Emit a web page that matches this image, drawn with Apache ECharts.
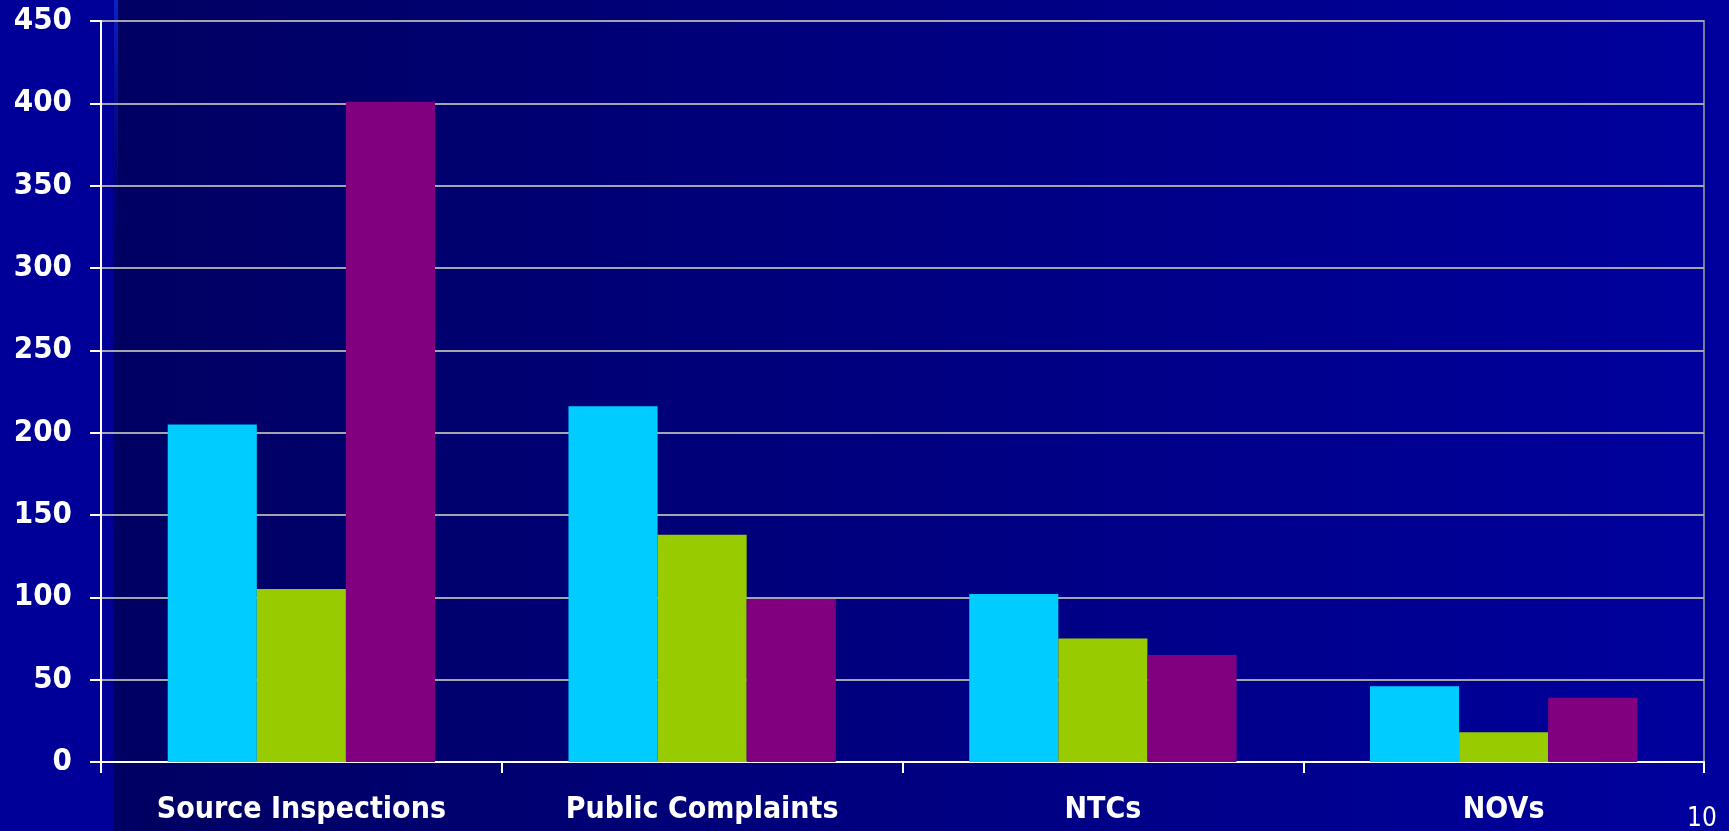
<!DOCTYPE html>
<html>
<head>
<meta charset="utf-8">
<script src="https://cdn.jsdelivr.net/npm/echarts@6/dist/echarts.min.js"></script>
<style>
html,body{margin:0;padding:0;background:#000099;}
#chart{width:1729px;height:831px;}
</style>
</head>
<body>
<div id="chart"></div>
<script>
const categories = ['Source Inspections', 'Public Complaints', 'NTCs', 'NOVs'];
const seriesCyan = [205, 216, 102, 46];
const seriesGreen = [105, 138, 75, 18];
const seriesPurple = [401, 99, 65, 39];
const yTicks = {min: 0, max: 450, interval: 50};
const pageNumber = '10';

const chart = echarts.init(document.getElementById('chart'));
const font = '"DejaVu Sans Condensed", "DejaVu Sans", Verdana, sans-serif';
const barBase = {type: 'bar', barGap: '0%', barCategoryGap: '33.3%'};
chart.setOption({
  backgroundColor: '#000099',
  animation: false,
  graphic: [
    {type: 'rect', z: -10, silent: true,
     shape: {x: 113, y: 0, width: 1616, height: 831},
     style: {fill: new echarts.graphic.LinearGradient(0, 0, 1, 0, [
       {offset: 0, color: '#000062'}, {offset: 0.45, color: '#00007e'}, {offset: 1, color: '#00009e'}])}},
    {type: 'rect', z: -9, silent: true,
     shape: {x: 114, y: 0, width: 4, height: 260},
     style: {fill: new echarts.graphic.LinearGradient(0, 0, 0, 1, [
       {offset: 0, color: '#0a22c8'}, {offset: 1, color: 'rgba(0,0,150,0)'}])}},
    {type: 'text', left: 1687, top: 806, silent: true,
     style: {text: pageNumber, fill: '#ffffff', font: '26px "DejaVu Sans Condensed", "DejaVu Sans", sans-serif'}}
  ],
  grid: {left: 101, right: 25, top: 21, bottom: 69, show: true, borderColor: '#7a7a96', borderWidth: 2, backgroundColor: 'transparent'},
  xAxis: {
    type: 'category', data: categories,
    axisLine: {show: true, lineStyle: {color: '#ffffff', width: 2}},
    axisTick: {show: true, length: 11, alignWithLabel: false, lineStyle: {color: '#ffffff', width: 2}},
    axisLabel: {color: '#ffffff', fontFamily: font, fontWeight: 'bold', fontSize: 30, margin: 33}
  },
  yAxis: {
    type: 'value', min: yTicks.min, max: yTicks.max, interval: yTicks.interval,
    axisLine: {show: true, lineStyle: {color: '#ffffff', width: 2}},
    axisTick: {show: true, length: 11, lineStyle: {color: '#ffffff', width: 2}},
    axisLabel: {color: '#ffffff', fontFamily: font, fontWeight: 'bold', fontSize: 31, margin: 29},
    splitLine: {show: true, lineStyle: {color: '#a4a4ac', width: 2}}
  },
  series: [
    Object.assign({}, barBase, {name: 'A', data: seriesCyan, itemStyle: {color: '#00ccff'}}),
    Object.assign({}, barBase, {name: 'B', data: seriesGreen, itemStyle: {color: '#99cc00'}}),
    Object.assign({}, barBase, {name: 'C', data: seriesPurple, itemStyle: {color: '#800080'}})
  ]
});
</script>
</body>
</html>
